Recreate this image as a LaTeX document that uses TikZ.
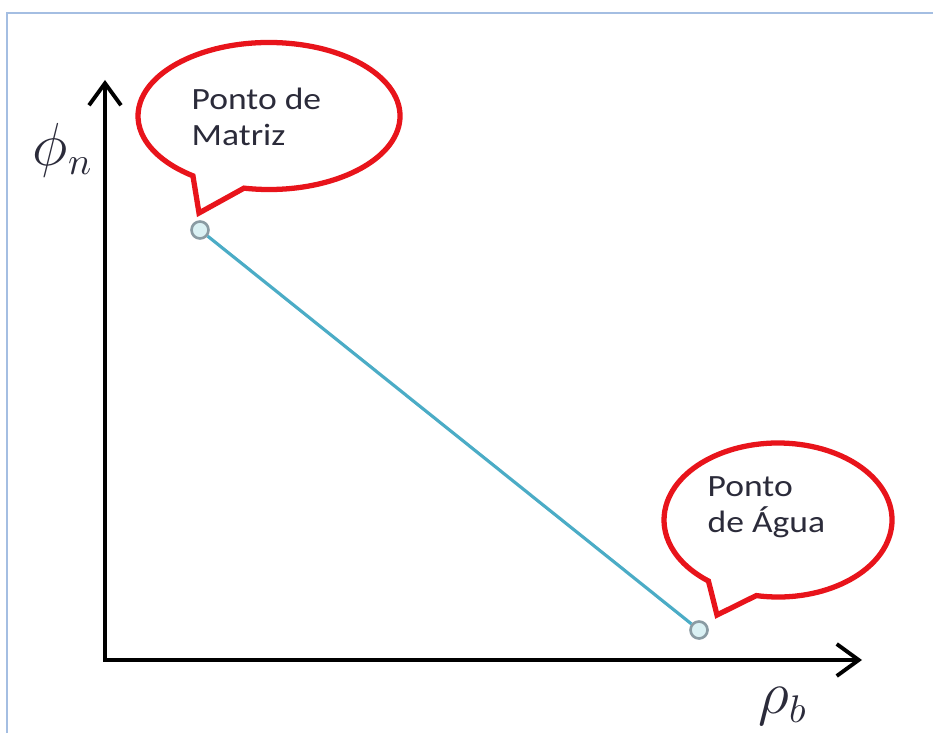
\documentclass[tikz,border=0pt]{standalone}
\usepackage{fontspec}
\newfontfamily\calloutfont[FakeStretch=1.15]{Carlito}
\usetikzlibrary{arrows.meta}
\definecolor{frameblue}{HTML}{A4BEE2}
\definecolor{lineaqua}{HTML}{4BACC6}
\definecolor{calloutred}{HTML}{E8141B}
\definecolor{pointfill}{HTML}{DAF1F4}
\definecolor{pointdraw}{HTML}{8A9BA3}
\definecolor{labeltext}{HTML}{2B2B3A}
\begin{document}
\begin{tikzpicture}[
    axis/.style={line width=1.1pt, -{Straight Barb[length=0.22cm, width=0.32cm, line width=1.1pt]}},
    point/.style={circle, draw=pointdraw, fill=pointfill, line width=0.75pt, minimum size=0.17cm, inner sep=0pt},
    callout/.style={draw=calloutred, line width=1.5pt, line join=miter},
    callouttext/.style={anchor=west, align=left, inner sep=0pt, text=labeltext,
      font=\calloutfont\fontsize{8.8pt}{10.2pt}\selectfont}
  ]
    \useasboundingbox (0,0) rectangle (9.33,7.33);

    % Light blue frame (only left and top edges visible)
    \draw[frameblue, line width=0.6pt] (0.07,0) -- (0.07,7.20) -- (9.33,7.20);

    % Axes
    \coordinate (origin) at (1.05,0.73);
    \coordinate (ytip) at (1.05,6.53);
    \coordinate (xtip) at (8.62,0.73);
    \draw[axis] (origin) -- (ytip);
    \draw[axis, shorten <=-0.55pt] (origin) -- (xtip);

    % Axis labels
    \node[font=\fontsize{16pt}{19pt}\selectfont, text=labeltext] (philabel) at (0.63,5.83) {$\phi_n$};
    \node[font=\fontsize{16pt}{19pt}\selectfont, text=labeltext] (rholabel) at (7.83,0.27) {$\rho_b$};

    % Matrix and water points joined by the line
    \node[point] (matriz) at (2.00,5.03) {};
    \node[point] (agua) at (6.99,1.03) {};
    \draw[lineaqua, line width=0.9pt] (matriz) -- (agua);

    % Callout for the matrix point
    \coordinate (cm) at (2.69,6.17);
    \coordinate (tipm) at ([shift={(-0.01,0.17)}]matriz.center);
    \draw[callout] (cm) ++(259:1.31 and 0.735)
      arc[start angle=259, end angle=594.5, x radius=1.31, y radius=0.735]
      -- (tipm) -- cycle;
    \node[callouttext] (matriztext) at (1.91,6.16) {Ponto de\\Matriz};

    % Callout for the water point
    \coordinate (ca) at (7.78,2.13);
    \coordinate (tipa) at ([shift={(0.18,0.15)}]agua.center);
    \draw[callout] (ca) ++(259:1.14 and 0.77)
      arc[start angle=259, end angle=592.4, x radius=1.14, y radius=0.77]
      -- (tipa) -- cycle;
    \node[callouttext] (aguatext) at (7.07,2.26) {Ponto\\de Água};

  \end{tikzpicture}
\end{document}
